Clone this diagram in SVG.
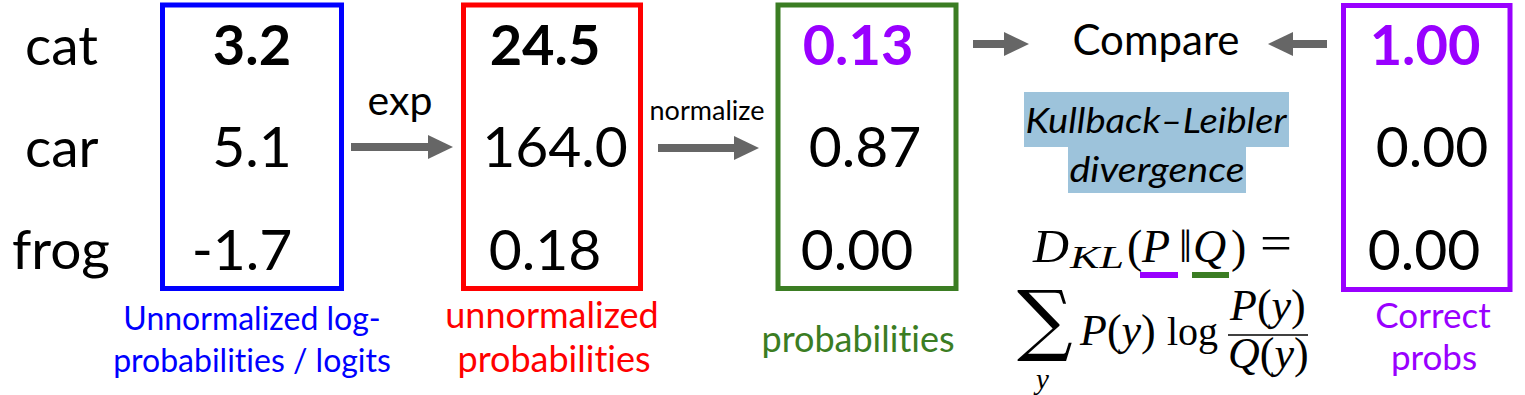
<svg xmlns="http://www.w3.org/2000/svg" width="1525" height="395" viewBox="0 0 1525 395">
<style>
.t{font-family:Lato,"Open Sans",sans-serif;fill:#000;font-variant-ligatures:none;font-feature-settings:"liga" 0}
.w{font-size:55px}
.n{font-size:57px}
.b{font-weight:bold;font-size:56px}
.box{fill:none;stroke-width:5}
.lab{font-size:36px}
.m{font-family:"Liberation Serif","Times New Roman",serif;fill:#000}
.i{font-style:italic}
.arrow{stroke:#666;stroke-width:8;fill:none}
</style>
<defs>
<marker id="ah" markerUnits="userSpaceOnUse" markerWidth="25" markerHeight="25" refX="0" refY="12" orient="auto" viewBox="0 0 25 24">
<path d="M0,0 L25,12 L0,24 Z" fill="#666"/>
</marker>
</defs>
<g id="classes">
<text class="t w" x="25" y="65">cat</text>
<text class="t w" x="25" y="167">car</text>
<text class="t w" x="12" y="269">frog</text>
</g>
<g id="logits">
<rect class="box" x="162.5" y="5" width="179" height="283.5" stroke="#0000ff"/>
<text class="t n b" x="252" y="65" text-anchor="middle">3.2</text>
<text class="t n" x="252" y="167" text-anchor="middle">5.1</text>
<text class="t n" x="242" y="270" text-anchor="middle">-1.7</text>
<text class="t" x="252" y="330" text-anchor="middle" style="fill:#0000ff;font-size:32px">Unnormalized log-</text>
<text class="t" x="252" y="372" text-anchor="middle" style="fill:#0000ff;font-size:32px">probabilities / logits</text>
</g>
<g id="unnormalized">
<rect class="box" x="463.5" y="5" width="177" height="283.5" stroke="#ff0000"/>
<text class="t n b" x="545" y="65" text-anchor="middle">24.5</text>
<text class="t n" x="555" y="167" text-anchor="middle">164.0</text>
<text class="t n" x="545" y="270" text-anchor="middle">0.18</text>
<text class="t lab" x="552" y="328" text-anchor="middle" style="fill:#ff0000">unnormalized</text>
<text class="t lab" x="554" y="372" text-anchor="middle" style="fill:#ff0000">probabilities</text>
</g>
<g id="probabilities">
<rect class="box" x="778" y="5" width="178" height="283.5" stroke="#3b7d23"/>
<text class="t n b" x="858" y="65" text-anchor="middle" style="fill:#9900ff">0.13</text>
<text class="t n" x="865" y="167" text-anchor="middle">0.87</text>
<text class="t n" x="857" y="270" text-anchor="middle">0.00</text>
<text class="t lab" x="858" y="352" text-anchor="middle" style="fill:#3b7d23">probabilities</text>
</g>
<g id="correct">
<rect class="box" x="1343.5" y="5.5" width="166.5" height="284" stroke="#9900ff"/>
<text class="t n b" x="1425" y="65" text-anchor="middle" style="fill:#9900ff">1.00</text>
<text class="t n" x="1432" y="167" text-anchor="middle">0.00</text>
<text class="t n" x="1424" y="270" text-anchor="middle">0.00</text>
<text class="t" x="1433" y="328" text-anchor="middle" style="fill:#9900ff;font-size:35px">Correct</text>
<text class="t" x="1434" y="370" text-anchor="middle" style="fill:#9900ff;font-size:35px">probs</text>
</g>
<g id="compare">
<text class="t" x="1156" y="55" text-anchor="middle" style="font-size:42px">Compare</text>
</g>
<g id="kl">
<rect x="1024" y="92" width="265" height="55" fill="#9dc3db"/>
<rect x="1068" y="146" width="178" height="47" fill="#9dc3db"/>
<text class="t i" x="1156" y="133" text-anchor="middle" textLength="261" lengthAdjust="spacingAndGlyphs" style="font-size:35px">Kullback–Leibler</text>
<text class="t i" x="1157" y="182" text-anchor="middle" textLength="175" lengthAdjust="spacingAndGlyphs" style="font-size:35px">divergence</text>
</g>
<g id="formula">
<text class="m i" x="1033" y="262" textLength="36" lengthAdjust="spacingAndGlyphs" style="font-size:47px">D</text>
<text class="m i" x="1070" y="268" textLength="54" lengthAdjust="spacingAndGlyphs" style="font-size:31px">KL</text>
<text class="m" x="1127" y="262" style="font-size:46px">(</text>
<text class="m i" x="1142" y="262" style="font-size:46px">P</text>
<text class="m" x="1179" y="262" style="font-size:46px">‖</text>
<text class="m i" x="1193" y="262" style="font-size:46px">Q</text>
<text class="m" x="1231" y="262" style="font-size:46px">)</text>
<text class="m" x="1260" y="260" textLength="32" lengthAdjust="spacingAndGlyphs" style="font-size:50px">=</text>
<rect x="1140" y="272" width="38" height="6" fill="#9900ff"/>
<rect x="1192" y="272" width="37" height="6" fill="#3b7d23"/>
<text class="m" x="1017" y="346" style="font-family:'DejaVu Serif',serif;font-size:78px">∑</text>
<text class="m i" x="1036" y="389" style="font-size:29px">y</text>
<text class="m" x="1080" y="345" style="font-size:44px"><tspan class="i">P</tspan>(<tspan class="i">y</tspan>)</text>
<text class="m" x="1167" y="345" style="font-size:40px">log</text>
<text class="m" x="1230" y="320" style="font-size:44px"><tspan class="i">P</tspan>(<tspan class="i">y</tspan>)</text>
<line x1="1228" y1="335" x2="1308" y2="335" stroke="#000" stroke-width="1.5"/>
<text class="m" x="1228" y="368" style="font-size:44px"><tspan class="i">Q</tspan>(<tspan class="i">y</tspan>)</text>
</g>
<g id="connectors">
<line class="arrow" x1="351" y1="147" x2="428" y2="147" marker-end="url(#ah)"/>
<text class="t" x="400" y="115" text-anchor="middle" style="font-size:41px">exp</text>
<line class="arrow" x1="658" y1="148" x2="734" y2="148" marker-end="url(#ah)"/>
<text class="t" x="707" y="120" text-anchor="middle" style="font-size:27px">normalize</text>
<line class="arrow" x1="973" y1="44" x2="1004" y2="44" marker-end="url(#ah)"/>
<line class="arrow" x1="1327" y1="44" x2="1293" y2="44" marker-end="url(#ah)"/>
</g>
</svg>
